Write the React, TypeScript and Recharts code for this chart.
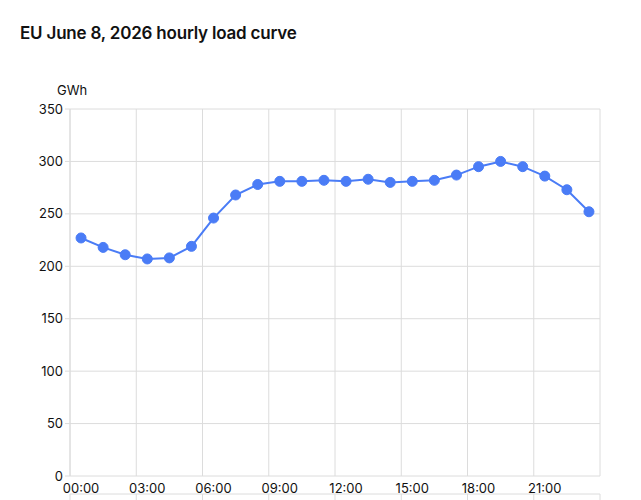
import { CartesianGrid, Line, LineChart, XAxis, YAxis } from "recharts";

const hours = [
  "00:00", "01:00", "02:00", "03:00", "04:00", "05:00", "06:00", "07:00",
  "08:00", "09:00", "10:00", "11:00", "12:00", "13:00", "14:00", "15:00",
  "16:00", "17:00", "18:00", "19:00", "20:00", "21:00", "22:00", "23:00",
];
const loadGWh = [
  227, 218, 211, 207, 208, 219, 246, 268, 278, 281, 281, 282,
  281, 283, 280, 281, 282, 287, 295, 300, 295, 286, 273, 252,
];
const labelTicks = [0, 3, 6, 9, 12, 15, 18, 21];
const gridTicks = [-0.5, 2.5, 5.5, 8.5, 11.5, 14.5, 17.5, 20.5, 23.5];
const yTicks = [0, 50, 100, 150, 200, 250, 300, 350];

const data = hours.map((h, i) => ({ idx: i, hour: h, value: loadGWh[i] }));

const font = "Inter, 'Noto Sans', sans-serif";
const gridColor = "#dcdcdc";

export default function App() {
  return (
    <div style={{ position: "absolute", left: 0, top: 0, width: 641, height: 500, background: "#fff", fontFamily: font }}>
      <div
        style={{
          position: "absolute",
          left: 20,
          top: 23,
          fontSize: 17,
          fontWeight: 600,
          color: "#111",
          letterSpacing: "-0.2px",
        }}
      >
        EU June 8, 2026 hourly load curve
      </div>
      <div style={{ position: "absolute", left: 57, top: 82, fontSize: 13, color: "#111" }}>GWh</div>
      <LineChart
        width={641}
        height={500}
        data={data}
        margin={{ top: 109, right: 41, bottom: 0, left: 0 }}
        style={{ position: "absolute", left: 0, top: 0 }}
      >
        <CartesianGrid xAxisId="grid" stroke={gridColor} />
        <XAxis
          xAxisId="grid"
          dataKey="idx"
          type="number"
          domain={[-0.5, 23.5]}
          ticks={gridTicks}
          tickFormatter={() => ""}
          tickSize={6}
          tickLine={{ stroke: gridColor }}
          axisLine={{ stroke: gridColor }}
          height={6}
          interval={0}
        />
        <XAxis
          dataKey="idx"
          type="number"
          domain={[-0.5, 23.5]}
          ticks={labelTicks}
          tickFormatter={(v: number) => hours[v]}
          tickLine={false}
          axisLine={false}
          tickSize={0}
          tickMargin={8}
          height={18}
          interval={0}
          tick={{ fontSize: 13, fill: "#111", fontFamily: font }}
        />
        <YAxis
          domain={[0, 350]}
          ticks={yTicks}
          width={70}
          tickSize={5}
          tickMargin={2}
          interval={0}
          tickLine={{ stroke: gridColor }}
          axisLine={{ stroke: gridColor }}
          tick={{ fontSize: 13, fill: "#111", fontFamily: font }}
        />
        <Line
          dataKey="value"
          stroke="#4a7cf6"
          strokeWidth={2}
          dot={{ r: 5, fill: "#4a7cf6", stroke: "#4a7cf6", strokeWidth: 1 }}
          activeDot={false}
          isAnimationActive={false}
        />
      </LineChart>
    </div>
  );
}
